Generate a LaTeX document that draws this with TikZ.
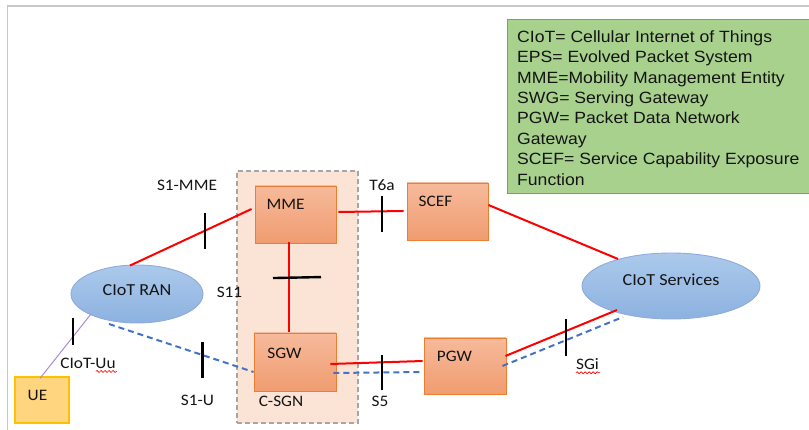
\documentclass[tikz,border=0pt]{standalone}
\usepackage{fontspec}
\setmainfont[FakeStretch=1.08]{Carlito}
\newfontfamily\legendfont[FakeStretch=1.08]{Liberation Sans}
\usetikzlibrary{shapes.geometric,calc,decorations.pathmorphing}

\definecolor{boxtop}{HTML}{F6BA9B}
\definecolor{boxbot}{HTML}{F09C70}
\definecolor{boxline}{HTML}{ED7D31}
\definecolor{elltop}{HTML}{ABC9EB}
\definecolor{ellbot}{HTML}{8DB2E0}
\definecolor{ellline}{HTML}{8FAADC}
\definecolor{csgnfill}{HTML}{FBE4D6}
\definecolor{csgnline}{HTML}{A6A6A6}
\definecolor{uefill}{HTML}{FFD580}
\definecolor{ueline}{HTML}{FFC000}
\definecolor{legfill}{HTML}{A9D18E}
\definecolor{legline}{HTML}{70AD47}
\definecolor{cpline}{HTML}{FF0000}
\definecolor{upline}{HTML}{4472C4}
\definecolor{uuline}{HTML}{A88BD0}
\definecolor{frameline}{HTML}{C8C8C8}
\definecolor{ink}{HTML}{141414}

\begin{document}
\begin{tikzpicture}[x=1pt,y=-1pt,
  lbl/.style={font=\fontsize{16}{18}\selectfont, text=ink, inner sep=0pt},
  biglbl/.style={font=\fontsize{16.8}{19}\selectfont, text=ink, inner sep=0pt},
  legtxt/.style={font=\legendfont\fontsize{16.3}{20}\selectfont, text=ink, inner sep=0pt, anchor=base west},
  entity/.style={rectangle, draw=boxline, line width=0.9pt, top color=boxtop, bottom color=boxbot, inner sep=0pt},
  cloud/.style={ellipse, draw=ellline, line width=0.9pt, top color=elltop, bottom color=ellbot, inner sep=0pt},
  ctrl/.style={draw=cpline, line width=2pt},
  user/.style={draw=upline, line width=2pt, dash pattern=on 6pt off 4pt},
  radio/.style={draw=uuline, line width=1pt},
  refpt/.style={draw=black, line width=2.4pt},
  squiggle/.style={draw=red, line width=0.6pt, decorate, decoration={snake, amplitude=1pt, segment length=4pt}},
]
\useasboundingbox (0,0) rectangle (809,430);

% outer frame
\draw[frameline, line width=1.5pt] (7.5,432) -- (7.5,6) -- (812,6);

% legend
\node[rectangle, fill=legfill, draw=legline, line width=1pt, minimum width=308pt, minimum height=174pt, inner sep=0pt] (legend) at (661,107) {};
\foreach \t [count=\i] in {{CIoT= Cellular Internet of Things},{EPS= Evolved Packet System},{MME=Mobility Management Entity},{SWG= Serving Gateway},{PGW= Packet Data Network},{Gateway},{SCEF= Service Capability Exposure},{Function}}
  \node[legtxt] (leg\i) at (517,{42.3+20.4*(\i-1)}) {\t};

% C-SGN grouping
\node[rectangle, fill=csgnfill, draw=csgnline, line width=1.9pt, dash pattern=on 5pt off 3pt, minimum width=121pt, minimum height=252pt, inner sep=0pt] (csgn) at (297.5,297) {};

% network entities
\node[entity, minimum width=81pt, minimum height=57pt, label={[lbl, xshift=-10pt, yshift=10.5pt]center:MME}] (mme) at (295.5,214.5) {};
\node[entity, minimum width=82pt, minimum height=58pt, label={[lbl, xshift=-10.5pt, yshift=9pt]center:SGW}] (sgw) at (295,362) {};
\node[entity, minimum width=81pt, minimum height=57pt, label={[lbl, xshift=-12pt, yshift=10pt]center:SCEF}] (scef) at (447.5,211.5) {};
\node[entity, minimum width=82pt, minimum height=56pt, label={[lbl, xshift=-10.5pt, yshift=10pt]center:PGW}] (pgw) at (465,366) {};
\node[rectangle, fill=uefill, draw=ueline, line width=1.3pt, minimum width=54pt, minimum height=46pt, inner sep=0pt, label={[lbl, xshift=-4.5pt, yshift=4.5pt]center:UE}] (ue) at (42,400) {};
\node[cloud, minimum width=132pt, minimum height=58pt, label={[biglbl, yshift=4pt]center:CIoT RAN}] (ran) at (137,294) {};
\node[cloud, minimum width=178pt, minimum height=66pt, label={[biglbl, yshift=6pt]center:CIoT Services}] (svc) at (671,286) {};

% control plane
\draw[ctrl] ($(ran.north)+(-7,1)$) -- coordinate[pos=0.615](tS1mme) ($(mme.west)+(-3,-5.5)$);
\draw[ctrl] ($(mme.east)+(2,-2.5)$) -- coordinate[pos=0.667](tT6a) ($(scef.west)+(-3,-0.5)$);
\draw[ctrl] ($(mme.south)+(-6.5,-1)$) -- coordinate[pos=0.394](tS11) ($(sgw.north)+(-6,-1)$);
\draw[ctrl] ($(scef.east)+(0,-6.5)$) -- ($(svc.center)+(-53,-27)$);
\draw[ctrl] ($(sgw.east)+(-6,2)$) -- coordinate[pos=0.56](tS5) ($(pgw.west)+(-1,-5)$);
\draw[ctrl] ($(pgw.east)+(-1,-10)$) -- coordinate[pos=0.545](tSGi) ($(svc.center)+(-54,24)$);

% user plane
\draw[user] ($(ran.center)+(-28,30)$) -- coordinate[pos=0.648](tS1u) ($(sgw.west)+(0,10)$);
\draw[user] ($(sgw.east)+(-3,11)$) -- ($(pgw.west)+(-1,6)$);
\draw[user] ($(pgw.east)+(-4,0)$) -- ($(svc.center)+(-48,31)$);

% radio link
\draw[radio] ($(ran.center)+(-46,20)$) -- coordinate[pos=0.353](tUu) ($(ue.north)+(-2,2)$);

% reference point marks
\draw[refpt] ($(tS1mme)+(0,-18)$) -- ($(tS1mme)+(0,18)$);
\draw[refpt] ($(tT6a)+(0,-15.3)$) -- ($(tT6a)+(0,20.7)$);
\draw[refpt] ($(tS11)+(-16,0.5)$) -- ($(tS11)+(32,-0.5)$);
\draw[refpt] ($(tS5)+(0,-7)$) -- ($(tS5)+(0,28)$);
\draw[refpt] ($(tSGi)+(0,-12)$) -- ($(tSGi)+(0,25)$);
\draw[refpt] ($(tS1u)+(0,-13)$) -- ($(tS1u)+(0,23)$);
\draw[refpt] ($(tUu)+(0,-19)$) -- ($(tUu)+(0,8)$);

% interface names
\node[lbl] (lS1mme) at (187,185) {S1-MME};
\node[lbl] (lT6a) at (382,185) {T6a};
\node[lbl] (lS11) at (229.5,292) {S11};
\node[lbl] (lUu) at (88,363) {CIoT-Uu};
\node[lbl] (lS1u) at (197.5,400) {S1-U};
\node[lbl] (lCsgn) at (281,401) {C-SGN};
\node[lbl] (lS5) at (380,401.5) {S5};
\node[lbl] (lSGi) at (587.5,364) {SGi};

% spelling marks under words
\draw[squiggle] ($(lUu.south east)+(-20,3)$) -- ($(lUu.south east)+(1,3)$);
\draw[squiggle] ($(lSGi.south west)+(0,3)$) -- ($(lSGi.south east)+(1,3)$);
\end{tikzpicture}
\end{document}
